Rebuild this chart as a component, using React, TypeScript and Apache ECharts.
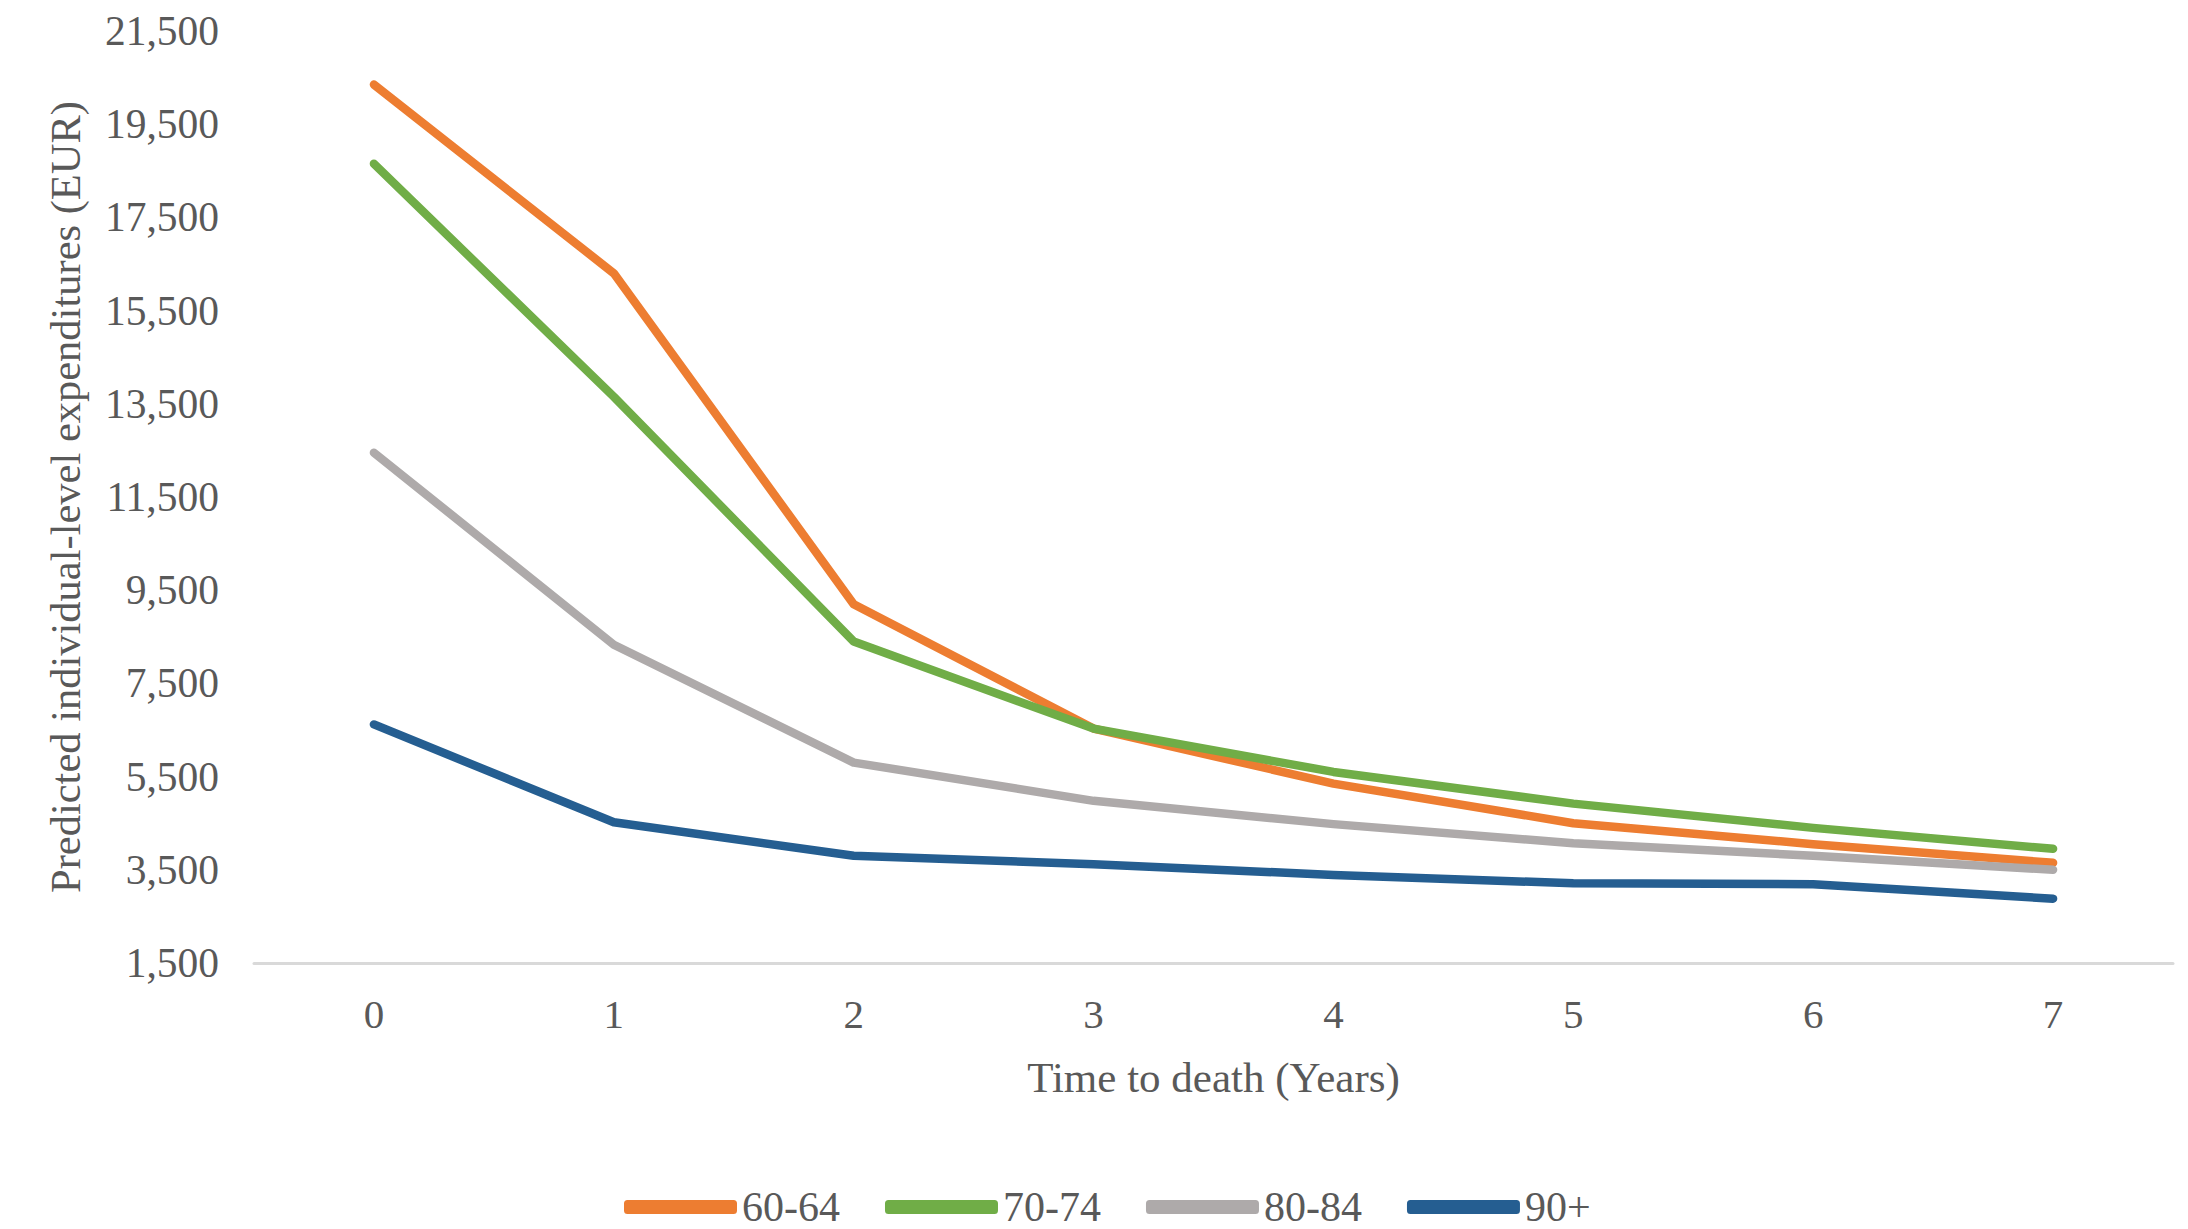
import React, { useEffect, useRef } from "react";
import * as echarts from "echarts";

const categories = ["0", "1", "2", "3", "4", "5", "6", "7"];
const s6064 = [20350, 16300, 9200, 6530, 5350, 4500, 4050, 3650];
const s7074 = [18650, 13650, 8400, 6530, 5600, 4920, 4400, 3950];
const s8084 = [12450, 8330, 5800, 4980, 4480, 4070, 3800, 3500];
const s90 = [6620, 4520, 3800, 3620, 3390, 3210, 3190, 2880];
const seriesNames = ["60-64", "70-74", "80-84", "90+"];
const yTicks = [1500, 3500, 5500, 7500, 9500, 11500, 13500, 15500, 17500, 19500, 21500];
const colors = ["#ED7D31", "#70AD47", "#AEAAAA", "#255E91"];

const FONT = "'Liberation Serif', 'Times New Roman', serif";
const TXT = "#595959";

export default function App() {
  const ref = useRef<HTMLDivElement>(null);
  useEffect(() => {
    if (!ref.current) return;
    const chart = echarts.init(ref.current, null, { renderer: "svg" });
    const data = [s6064, s7074, s8084, s90];
    chart.setOption({
      animation: false,
      backgroundColor: "#ffffff",
      textStyle: { fontFamily: FONT },
      grid: { left: 254, right: 15, top: 31, bottom: 266, containLabel: false },
      legend: {
        top: 1180,
        left: 619,
        icon: "roundRect",
        itemWidth: 113,
        itemHeight: 14,
        itemGap: 45,
        textStyle: { fontFamily: FONT, fontSize: 42, lineHeight: 44, color: TXT },
        data: seriesNames,
      },
      xAxis: {
        type: "category",
        data: categories,
        boundaryGap: true,
        name: "Time to death (Years)",
        nameLocation: "middle",
        nameGap: 93,
        nameTextStyle: { fontFamily: FONT, fontSize: 43, color: TXT },
        axisLine: { show: true, lineStyle: { color: "#D9D9D9", width: 3 } },
        axisTick: { show: false },
        axisLabel: { fontFamily: FONT, fontSize: 41, color: TXT, margin: 30 },
        splitLine: { show: false },
      },
      yAxis: {
        type: "value",
        min: 1500,
        max: 21500,
        interval: 500,
        name: "Predicted individual-level expenditures (EUR)",
        nameLocation: "middle",
        nameGap: 167,
        nameRotate: 90,
        nameTextStyle: { fontFamily: FONT, fontSize: 42.5, color: TXT },
        axisLine: { show: false },
        axisTick: { show: false },
        splitLine: { show: false },
        axisLabel: {
          fontFamily: FONT,
          fontSize: 41.5,
          color: TXT,
          margin: 35,
          formatter: (v: number) => (yTicks.includes(v) ? v.toLocaleString("en-US") : ""),
        },
      },
      series: seriesNames.map((n, i) => ({
        name: n,
        type: "line",
        data: data[i],
        symbol: "none",
        color: colors[i],
        lineStyle: { width: 8.5, color: colors[i], cap: "round", join: "round" },
        itemStyle: { color: colors[i] },
      })),
    });
    return () => chart.dispose();
  }, []);
  return (
    <div
      ref={ref}
      style={{ position: "fixed", left: 0, top: 0, width: 2188, height: 1229, background: "#fff" }}
    />
  );
}
